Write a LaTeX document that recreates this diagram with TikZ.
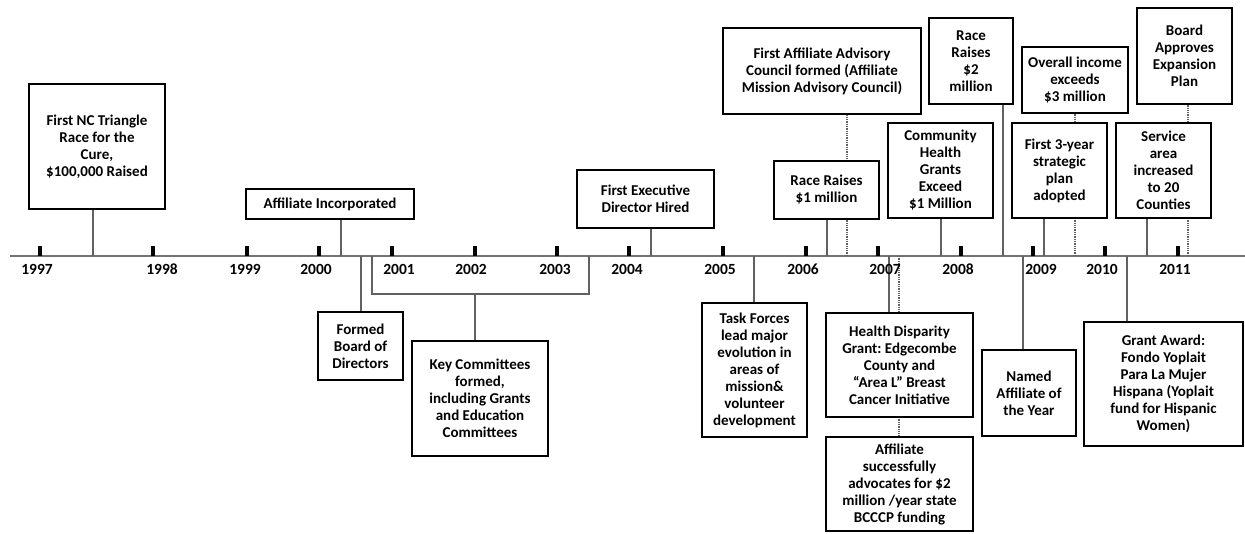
\documentclass[tikz,border=0pt]{standalone}
\usepackage{fontspec}
\setmainfont{Carlito}
\usetikzlibrary{backgrounds}
\frenchspacing
\begin{document}
\begin{tikzpicture}[x=1pt,y=-1pt,
  box/.style={draw, line width=2.4pt, fill=white, align=center, inner sep=0pt,
    font=\fontsize{15}{17}\selectfont\bfseries},
  conn/.style={draw=black!62, line width=1.3pt},
  dconn/.style={conn, densely dotted},
  axisline/.style={draw=black!55, line width=2pt},
  tickmark/.style={fill=black, minimum width=4pt, minimum height=10pt, inner sep=0pt},
  yr/.style={font=\fontsize{15.5}{17}\selectfont\bfseries, inner sep=0pt}]
\useasboundingbox (0,0) rectangle (1245,533);
% axis
\coordinate (L) at (10,256);
\coordinate (R) at (1245,256);
% ticks and years
\foreach \tx/\yy/\lx in {40/1997/37, 153/1998/162, 247/1999/245, 319/2000/316, 392/2001/399,
  475/2002/471, 557/2003/555, 629/2004/627, 723/2005/720, 806/2006/803,
  878/2007/885, 961/2008/958, 1033/2009/1041, 1105/2010/1102, 1178/2011/1175}{
  \node[tickmark] (t\yy) at (\tx,251) {};
  \node[yr] (y\yy) at (\lx,269) {\yy};
}
% top boxes
\node[box, minimum width=136pt, minimum height=125pt] (nc) at (97,146.5)
  {First NC Triangle\\Race for the\\Cure,\\\$100,000 Raised};
\node[box, minimum width=168pt, minimum height=30pt] (inc) at (330,204)
  {Affiliate Incorporated};
\node[box, minimum width=137pt, minimum height=58pt] (exec) at (645.5,199)
  {First Executive\\Director Hired};
\node[box, minimum width=198pt, minimum height=86pt] (adv) at (822,71)
  {First Affiliate Advisory\\Council formed (Affiliate\\Mission Advisory Council)};
\node[box, minimum width=105pt, minimum height=58pt] (r1m) at (826.5,190)
  {Race Raises\\\$1 million};
\node[box, minimum width=105pt, minimum height=95pt] (chg) at (940.5,170.5)
  {Community\\Health\\Grants\\Exceed\\\$1 Million};
\node[box, minimum width=84pt, minimum height=86pt] (r2m) at (971,61)
  {Race\\Raises\\\$2\\million};
\node[box, minimum width=106pt, minimum height=66pt] (inc3) at (1075,80)
  {Overall income\\exceeds\\\$3 million};
\node[box, minimum width=95pt, minimum height=95pt] (plan) at (1059.5,170.5)
  {First 3-year\\strategic\\plan\\adopted};
\node[box, minimum width=95pt, minimum height=96pt] (board) at (1184.5,56)
  {Board\\Approves\\Expansion\\Plan};
\node[box, minimum width=95pt, minimum height=95pt] (svc) at (1163.5,170.5)
  {Service\\area\\increased\\to 20\\Counties};
% bottom boxes
\node[box, minimum width=85pt, minimum height=68pt] (fbd) at (360.5,346)
  {Formed\\Board of\\Directors};
\node[box, minimum width=136pt, minimum height=115pt] (key) at (480,398.5)
  {Key Committees\\formed,\\including Grants\\and Education\\Committees};
\node[box, minimum width=105pt, minimum height=134pt] (task) at (754.5,370)
  {Task Forces\\lead major\\evolution in\\areas of\\mission\&\\volunteer\\development};
\node[box, minimum width=147pt, minimum height=104pt] (hd) at (899.5,365)
  {Health Disparity\\Grant: Edgecombe\\County and\\“Area L” Breast\\Cancer Initiative};
\node[box, minimum width=147pt, minimum height=94pt] (bccp) at (899.5,484)
  {Affiliate\\successfully\\advocates for \$2\\million /year state\\BCCCP funding};
\node[box, minimum width=94pt, minimum height=86pt] (named) at (1029,393)
  {Named\\Affiliate of\\the Year};
\node[box, minimum width=159pt, minimum height=124pt] (grant) at (1163.5,384)
  {Grant Award:\\Fondo Yoplait\\Para La Mujer\\Hispana (Yoplait\\fund for Hispanic\\Women)};
% connectors
\coordinate (cNC) at (93,256);
\coordinate (cINC) at (341,256);
\coordinate (cEX) at (651,256);
\coordinate (cADV) at (847,256);
\coordinate (cR1) at (827,256);
\coordinate (cCH) at (941,256);
\coordinate (cR2) at (1003,256);
\coordinate (cI3) at (1075,256);
\coordinate (cPL) at (1044,256);
\coordinate (cBO) at (1188,256);
\coordinate (cSV) at (1147,256);
\coordinate (cFB) at (361,256);
\coordinate (b1) at (372,256);
\coordinate (b2) at (589,256);
\coordinate (bm) at (475,294);
\coordinate (cTF) at (754,256);
\coordinate (cHD) at (889,256);
\coordinate (cBC) at (899,256);
\coordinate (cNA) at (1023,256);
\coordinate (cGA) at (1127,256);
\begin{scope}[on background layer]
\draw[axisline] (L) -- (R);
\draw[conn] (cNC) -- (cNC |- nc.south);
\draw[conn] (cINC) -- (cINC |- inc.south);
\draw[conn] (cEX) -- (cEX |- exec.south);
\draw[dconn] (cADV) -- (cADV |- adv.south);
\draw[conn] (cR1) -- (cR1 |- r1m.south);
\draw[conn] (cCH) -- (cCH |- chg.south);
\draw[conn] (cR2) -- (cR2 |- r2m.south);
\draw[dconn] (cI3) -- (cI3 |- inc3.south);
\draw[conn] (cPL) -- (cPL |- plan.south);
\draw[dconn] (cBO) -- (cBO |- board.south);
\draw[conn] (cSV) -- (cSV |- svc.south);
\draw[conn] (cFB) -- (cFB |- fbd.north);
\draw[conn] (b1) |- (bm) -| (b2);
\draw[conn] (bm) -- (bm |- key.north);
\draw[conn] (cTF) -- (cTF |- task.north);
\draw[conn] (cHD) -- (cHD |- hd.north);
\draw[dconn] (cBC) -- (cBC |- bccp.north);
\draw[conn] (cNA) -- (cNA |- named.north);
\draw[conn] (cGA) -- (cGA |- grant.north);
\end{scope}
\end{tikzpicture}
\end{document}
